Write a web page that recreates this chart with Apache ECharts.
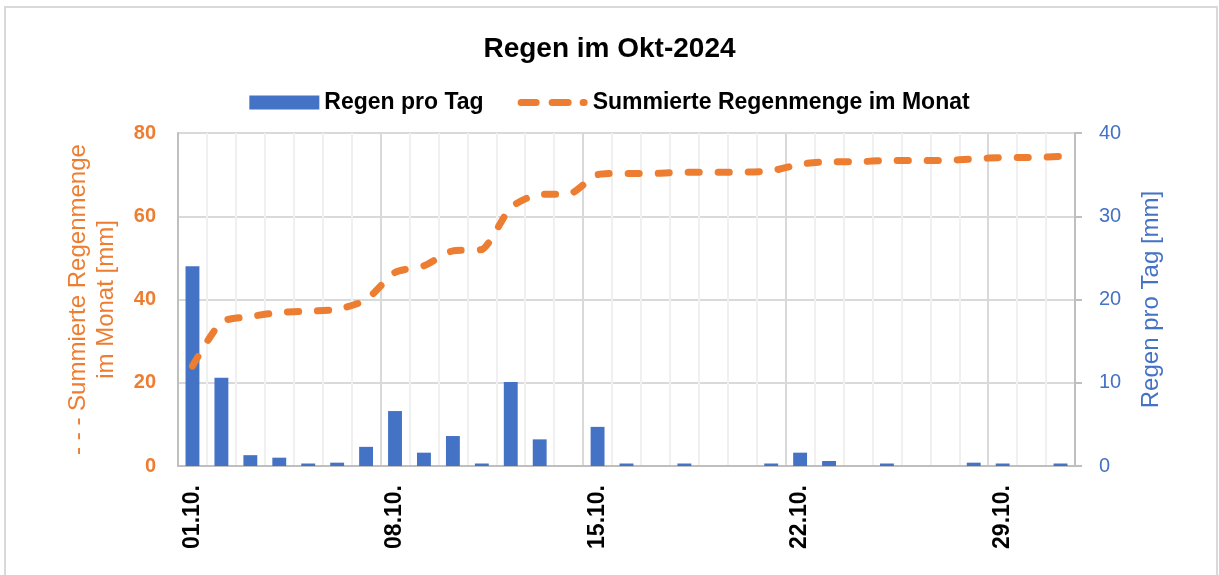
<!DOCTYPE html>
<html>
<head>
<meta charset="utf-8">
<script src="https://cdn.jsdelivr.net/npm/echarts@6/dist/echarts.min.js"></script>
<style>
  html, body { margin: 0; padding: 0; background: #fff; }
  #chart { width: 1219px; height: 575px; }
</style>
</head>
<body>
<div id="chart"></div>
<script>
// Tage im Oktober 2024
var days = ['01.10.', '02.10.', '03.10.', '04.10.', '05.10.', '06.10.', '07.10.', '08.10.', '09.10.', '10.10.',
            '11.10.', '12.10.', '13.10.', '14.10.', '15.10.', '16.10.', '17.10.', '18.10.', '19.10.', '20.10.',
            '21.10.', '22.10.', '23.10.', '24.10.', '25.10.', '26.10.', '27.10.', '28.10.', '29.10.', '30.10.', '31.10.'];
// Regen pro Tag [mm]
var rainPerDay = [24.0, 10.6, 1.3, 1.0, 0.3, 0.4, 2.3, 6.6, 1.6, 3.6,
                  0.3, 10.1, 3.2, 0, 4.7, 0.3, 0, 0.3, 0, 0,
                  0.3, 1.6, 0.6, 0, 0.3, 0, 0, 0.4, 0.3, 0, 0.3];
// Summierte Regenmenge im Monat [mm]
var rainSum = [24.0, 34.6, 35.9, 36.9, 37.2, 37.6, 39.9, 46.5, 48.1, 51.7,
               52.0, 62.1, 65.3, 65.3, 70.0, 70.3, 70.3, 70.6, 70.6, 70.6,
               70.9, 72.5, 73.1, 73.1, 73.4, 73.4, 73.4, 73.8, 74.1, 74.1, 74.4];

var chart = echarts.init(document.getElementById('chart'));
var font = 'Liberation Sans';
var orange = '#ed7d31';
var blue = '#4472c4';

// gestricheltes Legendensymbol: zwei Striche und ein Punkt (Box 70x14)
function capsule(x1, x2) {
    var r = 3.5;
    return 'M' + (x1 + r) + ',3.5 L' + (x2 - r) + ',3.5 A3.5,3.5 0 0 1 ' + (x2 - r) + ',10.5 L' +
        (x1 + r) + ',10.5 A3.5,3.5 0 0 1 ' + (x1 + r) + ',3.5 Z ';
}
var dashIcon = 'path://M0,0 L0,0 M70,14 L70,14 ' + capsule(0, 22) + capsule(31, 54) + capsule(62, 70);

var option = {
    backgroundColor: '#fff',
    animation: false,
    textStyle: { fontFamily: font },
    graphic: [{
        type: 'rect',
        shape: { x: 5, y: 7, width: 1212, height: 600 },
        style: { fill: 'none', stroke: '#d9d9d9', lineWidth: 2 },
        silent: true
    }],
    title: {
        text: 'Regen im Okt-2024',
        left: 'center',
        top: 30,
        textStyle: { fontFamily: font, fontSize: 28, fontWeight: 'bold', color: '#000' }
    },
    legend: {
        left: 'center',
        top: 86,
        itemWidth: 70,
        itemHeight: 14,
        itemGap: 34,
        textStyle: { fontFamily: font, fontSize: 23, fontWeight: 'bold', color: '#000' },
        data: [
            { name: 'Regen pro Tag', icon: 'rect' },
            { name: 'Summierte Regenmenge im Monat', icon: dashIcon, itemStyle: { color: orange } }
        ]
    },
    grid: { left: 178, right: 144, top: 133, bottom: 109 },
    xAxis: [
        {
            type: 'category',
            data: days,
            axisLine: { lineStyle: { color: '#bfbfbf', width: 2 } },
            axisTick: { show: false },
            axisLabel: {
                interval: 6,
                rotate: 90,
                margin: 19,
                fontFamily: font,
                fontSize: 23,
                fontWeight: 'bold',
                color: '#000'
            },
            splitLine: { show: true, interval: 0, lineStyle: { color: '#f0f0f0', width: 2 } }
        },
        {
            // nur fuer die Wochenlinien
            type: 'category',
            data: days,
            axisLine: { show: false },
            axisTick: { show: false },
            axisLabel: { show: false },
            splitLine: {
                show: true,
                interval: function (index) { return index % 7 === 0; },
                lineStyle: { color: '#d9d9d9', width: 2 }
            }
        }
    ],
    yAxis: [
        {
            type: 'value',
            min: 0,
            max: 80,
            interval: 20,
            position: 'left',
            name: '- - - Summierte Regenmenge\nim Monat [mm]',
            nameLocation: 'middle',
            nameGap: 58,
            nameTextStyle: { fontFamily: font, fontSize: 24, color: orange, lineHeight: 28 },
            axisLine: { show: true, lineStyle: { color: '#bfbfbf', width: 2 } },
            axisTick: { show: false },
            axisLabel: { margin: 22, fontFamily: font, fontSize: 20, fontWeight: 'bold', color: orange },
            splitLine: { lineStyle: { color: '#d9d9d9', width: 2 } }
        },
        {
            type: 'value',
            min: 0,
            max: 40,
            interval: 10,
            position: 'right',
            name: 'Regen pro Tag [mm]',
            nameLocation: 'middle',
            nameGap: 64,
            nameTextStyle: { fontFamily: font, fontSize: 24, color: blue },
            axisLine: { show: true, lineStyle: { color: '#bfbfbf', width: 2 } },
            axisTick: { show: true, length: 7, lineStyle: { color: '#bfbfbf', width: 2 } },
            axisLabel: { margin: 24, fontFamily: font, fontSize: 20, color: blue },
            splitLine: { show: false }
        }
    ],
    series: [
        {
            name: 'Regen pro Tag',
            type: 'bar',
            xAxisIndex: 0,
            yAxisIndex: 1,
            barWidth: '48%',
            itemStyle: { color: blue },
            data: rainPerDay
        },
        {
            name: 'Summierte Regenmenge im Monat',
            type: 'line',
            xAxisIndex: 0,
            yAxisIndex: 0,
            smooth: 0.2,
            symbol: 'none',
            z: 5,
            itemStyle: { color: orange },
            lineStyle: { color: orange, width: 7, type: [11, 19], cap: 'round' },
            data: rainSum
        }
    ]
};
chart.setOption(option);
</script>
</body>
</html>
